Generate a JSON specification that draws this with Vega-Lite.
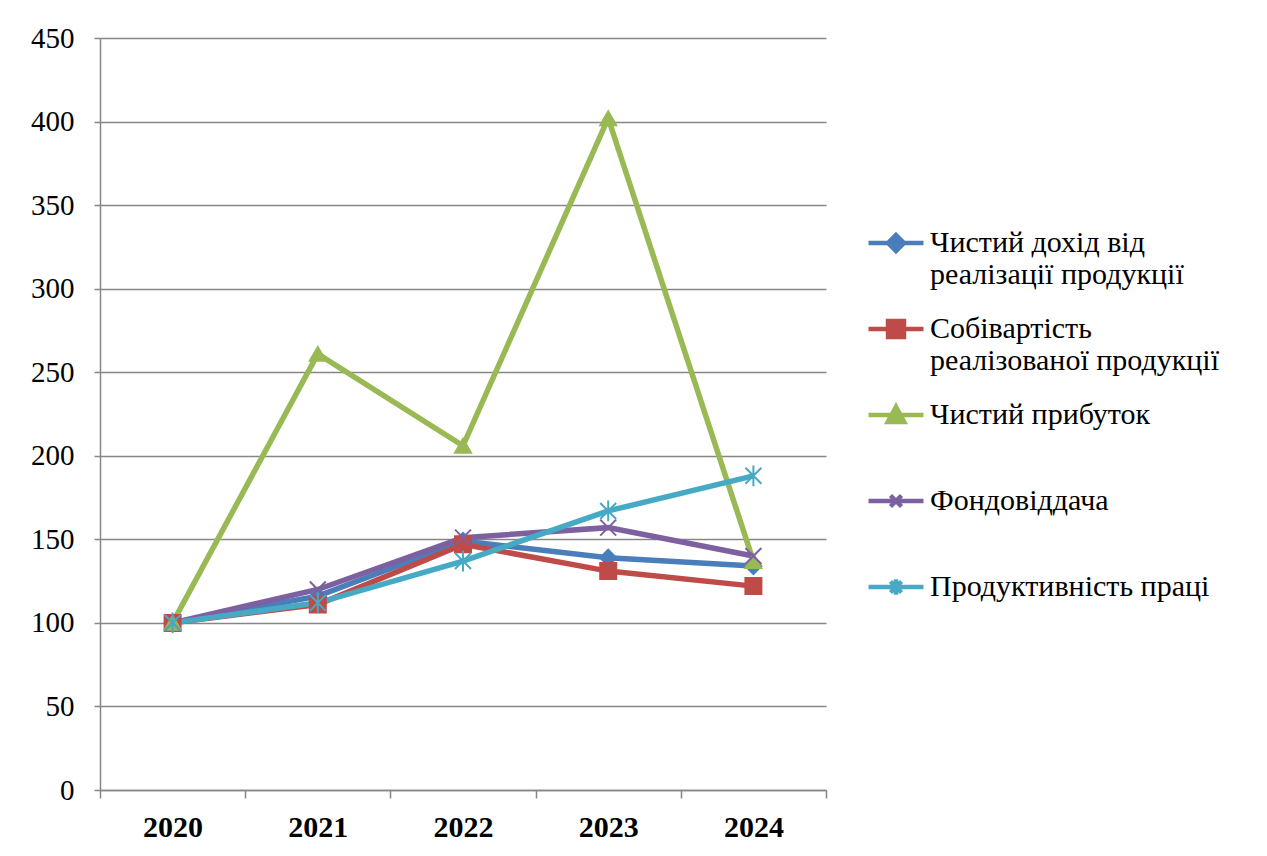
{
  "$schema": "https://vega.github.io/schema/vega-lite/v6.json",
  "width": 726,
  "height": 752,
  "autosize": {"type": "none"},
  "padding": {"left": 100, "top": 38, "right": 441, "bottom": 66},
  "background": "white",
  "config": {"view": {"stroke": null}},
  "data": {
    "values": [
      {"year": "2020", "series": "Чистий дохід від реалізації продукції", "value": 100},
      {"year": "2021", "series": "Чистий дохід від реалізації продукції", "value": 116},
      {"year": "2022", "series": "Чистий дохід від реалізації продукції", "value": 149},
      {"year": "2023", "series": "Чистий дохід від реалізації продукції", "value": 139},
      {"year": "2024", "series": "Чистий дохід від реалізації продукції", "value": 134},
      {"year": "2020", "series": "Собівартість реалізованої продукції", "value": 100},
      {"year": "2021", "series": "Собівартість реалізованої продукції", "value": 111},
      {"year": "2022", "series": "Собівартість реалізованої продукції", "value": 147},
      {"year": "2023", "series": "Собівартість реалізованої продукції", "value": 131},
      {"year": "2024", "series": "Собівартість реалізованої продукції", "value": 122},
      {"year": "2020", "series": "Чистий прибуток", "value": 100},
      {"year": "2021", "series": "Чистий прибуток", "value": 261},
      {"year": "2022", "series": "Чистий прибуток", "value": 206},
      {"year": "2023", "series": "Чистий прибуток", "value": 402},
      {"year": "2024", "series": "Чистий прибуток", "value": 137},
      {"year": "2020", "series": "Фондовіддача", "value": 100},
      {"year": "2021", "series": "Фондовіддача", "value": 120},
      {"year": "2022", "series": "Фондовіддача", "value": 151},
      {"year": "2023", "series": "Фондовіддача", "value": 157},
      {"year": "2024", "series": "Фондовіддача", "value": 140},
      {"year": "2020", "series": "Продуктивність праці", "value": 100},
      {"year": "2021", "series": "Продуктивність праці", "value": 112},
      {"year": "2022", "series": "Продуктивність праці", "value": 137},
      {"year": "2023", "series": "Продуктивність праці", "value": 167},
      {"year": "2024", "series": "Продуктивність праці", "value": 188}
    ]
  },
  "encoding": {
    "x": {
      "field": "year",
      "type": "ordinal",
      "bandPosition": 0.5,
      "scale": {"type": "band", "paddingInner": 0, "paddingOuter": 0},
      "axis": {
        "title": null,
        "labelAngle": 0,
        "labelFont": "Times New Roman, Liberation Serif, serif",
        "labelFontSize": 30,
        "labelFontWeight": "bold",
        "labelColor": "black",
        "labelPadding": 14,
        "tickBand": "extent",
        "tickSize": 8,
        "tickColor": "#868686",
        "tickWidth": 1.5,
        "domainColor": "#868686",
        "domainWidth": 1.5,
        "grid": false
      }
    },
    "y": {
      "field": "value",
      "type": "quantitative",
      "scale": {"domain": [0, 450], "nice": false, "zero": true},
      "axis": {
        "title": null,
        "values": [0, 50, 100, 150, 200, 250, 300, 350, 400, 450],
        "labelFont": "Times New Roman, Liberation Serif, serif",
        "labelFontSize": 29,
        "labelColor": "black",
        "labelPadding": 20,
        "tickSize": 6,
        "tickColor": "#868686",
        "tickWidth": 1.5,
        "domainColor": "#868686",
        "domainWidth": 1.5,
        "grid": true,
        "gridColor": "#868686",
        "gridWidth": 1.5
      }
    }
  },
  "layer": [
    {
      "mark": {"type": "line", "strokeWidth": 5.5},
      "encoding": {
        "color": {
          "field": "series",
          "type": "nominal",
          "sort": null,
          "scale": {
            "domain": ["Чистий дохід від реалізації продукції", "Собівартість реалізованої продукції", "Чистий прибуток", "Фондовіддача", "Продуктивність праці"],
            "range": ["#4A7EBB", "#BE4B48", "#98B954", "#7D60A0", "#46AAC5"]
          },
          "legend": {
            "title": null,
            "orient": "none",
            "legendX": 766,
            "legendY": 175,
            "symbolSize": 3025,
            "symbolStrokeWidth": 4.5,
            "labelFont": "Times New Roman, Liberation Serif, serif",
            "labelFontSize": 30,
            "labelColor": "black",
            "labelLimit": 500,
            "labelOffset": 4,
            "rowPadding": 9,
            "labelExpr": "datum.label == 'Чистий дохід від реалізації продукції' ? ['Чистий дохід від', 'реалізації продукції'] : datum.label == 'Собівартість реалізованої продукції' ? ['Собівартість', 'реалізованої продукції'] : [datum.label, ' ']",
            "encode": {
              "symbols": {
                "update": {
                  "shape": {"signal": "datum.value == 'Чистий дохід від реалізації продукції' ? 'M-1,0H1M0,-0.29L0.29,0L0,0.29L-0.29,0Z' : datum.value == 'Собівартість реалізованої продукції' ? 'M-1,0H1M-0.29,-0.29H0.29V0.29H-0.29Z' : datum.value == 'Чистий прибуток' ? 'M-1,0H1M0,-0.3L0.3,0.25L-0.3,0.25Z' : datum.value == 'Фондовіддача' ? 'M-1,0H1M-0.2,-0.2L0.2,0.2M-0.2,0.2L0.2,-0.2' : 'M-1,0H1M-0.2,-0.2L0.2,0.2M-0.2,0.2L0.2,-0.2M0,-0.28V0.28'"},
                  "fill": {"signal": "datum.value == 'Чистий дохід від реалізації продукції' ? '#4A7EBB' : datum.value == 'Собівартість реалізованої продукції' ? '#BE4B48' : datum.value == 'Чистий прибуток' ? '#98B954' : datum.value == 'Фондовіддача' ? '#7D60A0' : '#46AAC5'"},
                  "stroke": {"signal": "datum.value == 'Чистий дохід від реалізації продукції' ? '#4A7EBB' : datum.value == 'Собівартість реалізованої продукції' ? '#BE4B48' : datum.value == 'Чистий прибуток' ? '#98B954' : datum.value == 'Фондовіддача' ? '#7D60A0' : '#46AAC5'"}
                }
              }
            }
          }
        }
      }
    },
    {
      "mark": {
        "type": "point",
        "size": 256,
        "strokeWidth": 2,
        "opacity": 1,
        "filled": true,
        "shape": {"expr": "datum.series == 'Чистий дохід від реалізації продукції' ? 'diamond' : datum.series == 'Собівартість реалізованої продукції' ? 'square' : datum.series == 'Чистий прибуток' ? 'triangle-up' : datum.series == 'Фондовіддача' ? 'M-1,-1L1,1M-1,1L1,-1' : 'M-1,-1L1,1M-1,1L1,-1M0,-1.3V1.3'"}
      },
      "encoding": {
        "fill": {
          "field": "series",
          "type": "nominal",
          "scale": {
            "domain": ["Чистий дохід від реалізації продукції", "Собівартість реалізованої продукції", "Чистий прибуток", "Фондовіддача", "Продуктивність праці"],
            "range": ["#4A7EBB", "#BE4B48", "#98B954", "#7D60A0", "#46AAC5"]
          },
          "legend": null
        },
        "stroke": {
          "field": "series",
          "type": "nominal",
          "scale": {
            "domain": ["Чистий дохід від реалізації продукції", "Собівартість реалізованої продукції", "Чистий прибуток", "Фондовіддача", "Продуктивність праці"],
            "range": ["#4A7EBB", "#BE4B48", "#98B954", "#7D60A0", "#46AAC5"]
          },
          "legend": null
        }
      }
    }
  ]
}
